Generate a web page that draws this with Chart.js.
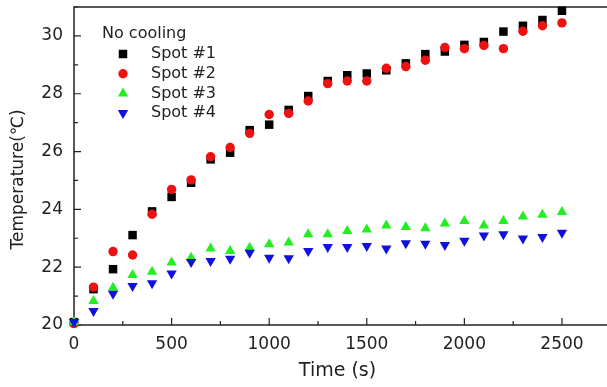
<!DOCTYPE html>
<html>
<head>
<meta charset="utf-8">
<script src="https://cdn.jsdelivr.net/npm/chart.js@4"></script>
<style>
  body { margin: 0; background: #fff; }
  canvas { display: block; }
</style>
</head>
<body>
<canvas id="tempChart" width="607" height="387"></canvas>
<script>
// Time axis (s) and the four spot series
const times = [0, 100, 200, 300, 400, 500, 600, 700, 800, 900, 1000, 1100, 1200,
  1300, 1400, 1500, 1600, 1700, 1800, 1900, 2000, 2100, 2200, 2300, 2400, 2500];
const spot1 = [20.1, 21.24, 21.93, 23.11, 23.93, 24.43, 24.92, 25.73, 25.96, 26.74, 26.93, 27.44, 27.92,
  28.44, 28.64, 28.70, 28.81, 29.05, 29.37, 29.46, 29.69, 29.79, 30.15, 30.35, 30.55, 30.87];
const spot2 = [20.05, 21.31, 22.54, 22.42, 23.83, 24.69, 25.02, 25.82, 26.14, 26.63, 27.28, 27.32, 27.75,
  28.35, 28.44, 28.44, 28.88, 28.94, 29.16, 29.60, 29.56, 29.67, 29.56, 30.16, 30.35, 30.45];
const spot3 = [20.1, 20.83, 21.29, 21.73, 21.84, 22.16, 22.33, 22.65, 22.56, 22.67, 22.79, 22.85, 23.14,
  23.14, 23.25, 23.30, 23.44, 23.39, 23.35, 23.51, 23.60, 23.44, 23.60, 23.75, 23.81, 23.91];
const spot4 = [20.1, 20.48, 21.08, 21.35, 21.44, 21.78, 22.18, 22.21, 22.29, 22.50, 22.33, 22.31, 22.56,
  22.70, 22.70, 22.73, 22.65, 22.83, 22.81, 22.77, 22.91, 23.10, 23.14, 22.99, 23.04, 23.19];

const seriesNames = ['Spot #1', 'Spot #2', 'Spot #3', 'Spot #4'];
const legendTitle = 'No cooling';
const xTicks = [0, 500, 1000, 1500, 2000, 2500];
const yTicks = [20, 22, 24, 26, 28, 30];

const FONT = 'DejaVu Sans';
const AXIS_COLOR = '#222';

const toPoints = (ys) => ys.map((y, i) => ({ x: times[i], y: y }));

// no extra room for edge labels, the plot box is fixed
const noPadding = (scale) => {
  scale.paddingLeft = 0;
  scale.paddingRight = 0;
  scale.paddingTop = 0;
  scale.paddingBottom = 0;
};

// Origin style frame: left/bottom/top lines with inward major and minor ticks
const framePlugin = {
  id: 'frame',
  beforeDatasetsDraw(chart) {
    const { ctx, chartArea: a, scales } = chart;
    ctx.save();
    ctx.strokeStyle = AXIS_COLOR;
    ctx.lineWidth = 1.5;
    ctx.beginPath();
    ctx.moveTo(chart.width, a.top);
    ctx.lineTo(a.left, a.top);
    ctx.lineTo(a.left, a.bottom);
    ctx.lineTo(chart.width, a.bottom);
    ctx.stroke();

    ctx.lineWidth = 1.2;
    ctx.beginPath();
    // x ticks, minor ones halfway between labels
    for (let v = xTicks[0]; v <= scales.x.max; v += 250) {
      const px = scales.x.getPixelForValue(v);
      const len = xTicks.includes(v) ? 7 : 4;
      ctx.moveTo(px, a.bottom);
      ctx.lineTo(px, a.bottom - len);
    }
    for (let v = yTicks[0]; v <= scales.y.max; v += 1) {
      const py = scales.y.getPixelForValue(v);
      const len = yTicks.includes(v) ? 7 : 4;
      ctx.moveTo(a.left, py);
      ctx.lineTo(a.left + len, py);
    }
    ctx.stroke();
    ctx.restore();
  }
};

// Legend box inside the plot, top left
const legendPlugin = {
  id: 'insideLegend',
  afterDraw(chart) {
    const { ctx } = chart;
    ctx.save();
    ctx.font = '16px "' + FONT + '"';
    ctx.fillStyle = '#222';
    ctx.textBaseline = 'middle';
    ctx.textAlign = 'left';
    ctx.fillText(legendTitle, 102, 34);
    chart.data.datasets.forEach((ds, i) => {
      const y = 54 + i * 19.7;
      ctx.fillStyle = ds.pointBackgroundColor;
      ctx.strokeStyle = ds.pointBackgroundColor;
      Chart.helpers.drawPoint(ctx, {
        pointStyle: ds.pointStyle,
        rotation: ds.pointRotation || 0,
        radius: ds.pointRadius,
        borderWidth: 0
      }, 123, y);
      ctx.fillStyle = '#222';
      ctx.fillText(ds.label, 151, y);
    });
    ctx.restore();
  }
};

const styles = [
  { color: '#000000', pointStyle: 'rect', radius: 6, rotation: 0 },
  { color: '#ee1111', pointStyle: 'circle', radius: 4.7, rotation: 0 },
  { color: '#22ee22', pointStyle: 'triangle', radius: 6, rotation: 0 },
  { color: '#1111dd', pointStyle: 'triangle', radius: 6, rotation: 180 }
];

const seriesData = [spot1, spot2, spot3, spot4];

const ctx = document.getElementById('tempChart').getContext('2d');
const tempChart = new Chart(ctx, {
  type: 'scatter',
  data: {
    datasets: seriesData.map((ys, i) => ({
      label: seriesNames[i],
      data: toPoints(ys),
      pointStyle: styles[i].pointStyle,
      pointRotation: styles[i].rotation,
      pointRadius: styles[i].radius,
      pointBackgroundColor: styles[i].color,
      pointBorderWidth: 0,
      showLine: false,
      clip: false,
      order: 3 - i // later spots drawn on top
    }))
  },
  options: {
    responsive: false,
    animation: false,
    layout: { padding: { top: 7, right: 0, left: 0, bottom: 0 } },
    plugins: {
      legend: { display: false },
      tooltip: { enabled: false }
    },
    scales: {
      x: {
        type: 'linear',
        min: 0,
        max: 2700,
        afterBuildTicks: (scale) => { scale.ticks = xTicks.map(v => ({ value: v })); },
        afterFit: (scale) => { scale.height = 62; noPadding(scale); },
        grid: { display: false, drawTicks: false },
        border: { display: false },
        ticks: {
          padding: 9,
          color: '#222',
          font: { family: FONT, size: 17 },
          callback: (v) => String(v)
        },
        title: {
          display: true,
          text: 'Time (s)',
          color: '#222',
          font: { family: FONT, size: 19 },
          padding: { top: 0, bottom: 5 }
        }
      },
      y: {
        min: 20,
        max: 31,
        afterBuildTicks: (scale) => { scale.ticks = yTicks.map(v => ({ value: v })); },
        afterFit: (scale) => { scale.width = 74; noPadding(scale); },
        grid: { display: false, drawTicks: false },
        border: { display: false },
        ticks: {
          padding: 11,
          color: '#222',
          font: { family: FONT, size: 17 },
          callback: (v) => String(v)
        },
        title: {
          display: true,
          text: 'Temperature(℃)     ',
          color: '#222',
          font: { family: FONT, size: 17 },
          padding: { top: 8, bottom: 0 }
        }
      }
    }
  },
  plugins: [framePlugin, legendPlugin]
});
</script>
</body>
</html>
